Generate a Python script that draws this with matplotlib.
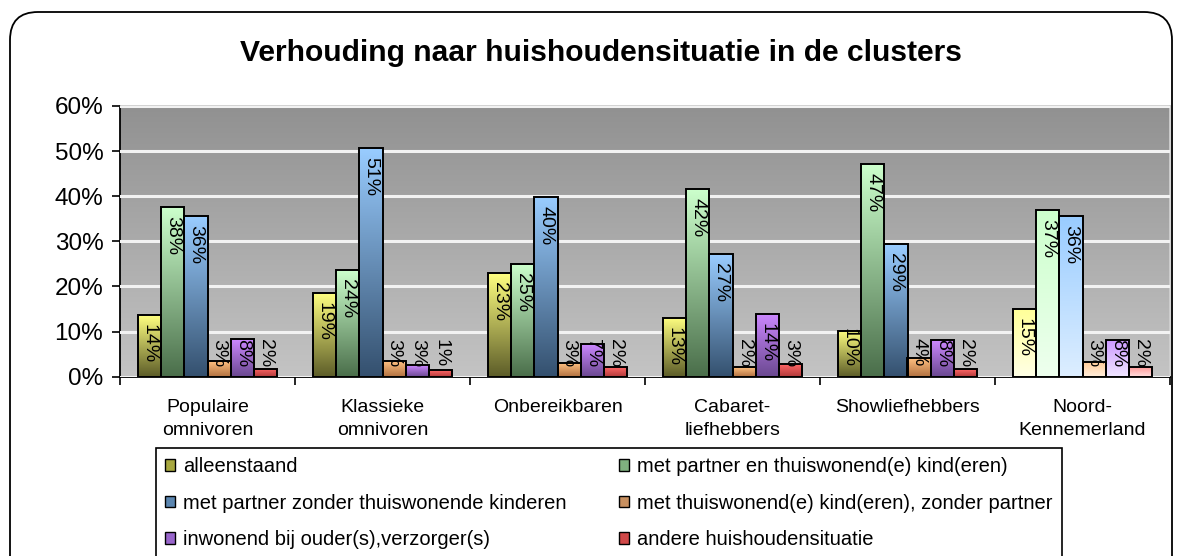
import numpy as np
import matplotlib
matplotlib.use("Agg")
import matplotlib.pyplot as plt
from matplotlib.patches import Patch, FancyBboxPatch
from matplotlib.colors import to_rgb

plt.rcParams['font.family'] = ['Liberation Sans', 'DejaVu Sans']

title = "Verhouding naar huishoudensituatie in de clusters"
categories = ["Populaire\nomnivoren", "Klassieke\nomnivoren", "Onbereikbaren",
              "Cabaret-\nliefhebbers", "Showliefhebbers", "Noord-\nKennemerland"]
series_names = ["alleenstaand",
                "met partner en thuiswonend(e) kind(eren)",
                "met partner zonder thuiswonende kinderen",
                "met thuiswonend(e) kind(eren), zonder partner",
                "inwonend bij ouder(s),verzorger(s)",
                "andere huishoudensituatie"]
alleenstaand = [13.7, 18.6, 22.9, 13.1, 10.2, 14.9]
partner_kind = [37.6, 23.7, 25.0, 41.6, 47.2, 37.0]
partner_zonder = [35.6, 50.6, 39.9, 27.1, 29.4, 35.6]
kind_zonder_partner = [3.4, 3.4, 3.0, 2.1, 4.2, 3.3]
inwonend = [8.3, 2.6, 7.2, 14.0, 8.1, 8.1]
andere = [1.8, 1.4, 2.1, 2.8, 1.7, 2.1]
values = [alleenstaand, partner_kind, partner_zonder, kind_zonder_partner, inwonend, andere]
yticks = [0, 10, 20, 30, 40, 50, 60]

top_colors = ["#ffff80", "#ccffcc", "#99ccff", "#ffc080", "#cc88ff", "#ff6666"]
bottom_colors = ["#5c5c28", "#4a6e4a", "#34506e", "#b07040", "#6a4890", "#b03a3a"]
pale_top = ["#ffff99", "#ccffcc", "#99ccff", "#ffcc99", "#cc99ff", "#ff9999"]
pale_bottom = ["#ffffe6", "#eeffee", "#ddeeff", "#ffeedd", "#f0e6ff", "#ffe0e0"]
legend_colors = ["#a8a840", "#7fb07f", "#5b86b0", "#c89060", "#9966cc", "#d04848"]

W, H = 1182, 556
fig = plt.figure(figsize=(W / 100, H / 100), dpi=100)
fig.patch.set_facecolor("white")

# rounded outer border
border = FancyBboxPatch((0.10, -0.3), 11.62, 5.56 - 0.12 + 0.3,
                        boxstyle="round,pad=0,rounding_size=0.28",
                        transform=fig.dpi_scale_trans, facecolor="none",
                        edgecolor="black", linewidth=1.3)
fig.patches.append(border)

ax = fig.add_axes([120 / W, 1 - 376.7 / H, (1170 - 120) / W, (376.7 - 106) / H])

# background gradient
grad = np.linspace(0, 1, 256).reshape(-1, 1)
c_top = np.array(to_rgb("#919191"))
c_bot = np.array(to_rgb("#c4c4c4"))
bg = c_top[None, None, :] * (1 - grad[:, :, None]) + c_bot[None, None, :] * grad[:, :, None]
ax.imshow(bg, extent=(0, 1, 0, 1), transform=ax.transAxes, aspect="auto",
          zorder=0, origin="upper")

n_series = len(values)
width = 0.133
x = np.arange(len(categories))
texts = []
for i, vals in enumerate(values):
    offs = (i - (n_series - 1) / 2) * width
    bars = ax.bar(x + offs, vals, width, facecolor="none", edgecolor="black",
                  linewidth=1.4, zorder=4)
    for j, b in enumerate(bars):
        if j == len(categories) - 1:
            ct, cb = np.array(to_rgb(pale_top[i])), np.array(to_rgb(pale_bottom[i]))
        else:
            ct, cb = np.array(to_rgb(top_colors[i])), np.array(to_rgb(bottom_colors[i]))
        g = np.linspace(0, 1, 128).reshape(-1, 1)
        img = ct[None, None, :] * (1 - g[:, :, None]) + cb[None, None, :] * g[:, :, None]
        bx0 = b.get_x()
        ax.imshow(img, extent=(bx0, bx0 + b.get_width(), 0, b.get_height()),
                  aspect="auto", zorder=3, origin="upper")
        t = ax.text(b.get_x() + b.get_width() / 2, vals[j], f"{vals[j]:.0f}%",
                    rotation=270, ha="center", va="top", fontsize=14,
                    color="black", zorder=6)
        texts.append((t, vals[j]))

ax.set_xlim(-0.5, len(categories) - 0.5)
ax.set_ylim(0, 60)
ax.set_yticks(yticks)
ax.set_yticklabels([f"{v}%" for v in yticks], fontsize=17.5)
ax.yaxis.grid(True, color="#f2f2f2", linewidth=2.2, zorder=1)
ax.set_axisbelow(False)
for gl in ax.get_ygridlines():
    gl.set_zorder(1)
ax.set_xticks(x)
ax.set_xticklabels(categories, fontsize=14, linespacing=1.45, va="top")
ax.set_xticks(np.arange(-0.5, len(categories), 1.0), minor=True)
ax.tick_params(axis="x", which="major", length=0, pad=16)
ax.tick_params(axis="x", which="minor", length=6, width=1.2, direction="out")
ax.tick_params(axis="y", length=6, width=1.2, direction="out", pad=6)
for s in ["left", "bottom"]:
    ax.spines[s].set_color("black")
    ax.spines[s].set_linewidth(1.3)
for s in ["top", "right"]:
    ax.spines[s].set_color("#cfcfcf")
    ax.spines[s].set_linewidth(1.3)

fig.text(601 / W, 1 - 53 / H, title, ha="center", va="center", fontsize=21.6,
         fontweight="bold")

# legend
order = [0, 2, 4, 1, 3, 5]
handles = [Patch(facecolor=legend_colors[k], edgecolor="black", linewidth=1.0) for k in order]
labels = [series_names[k] for k in order]
leg = fig.legend(handles, labels, loc="upper left",
                 bbox_to_anchor=(156 / W, 1 - 448 / H), ncol=2, fontsize=14.5,
                 frameon=True, fancybox=False, edgecolor="black", framealpha=1,
                 handlelength=0.5, handleheight=0.5, handletextpad=0.4,
                 columnspacing=2.6, labelspacing=0.87, borderaxespad=0,
                 borderpad=0.45)
leg.get_frame().set_linewidth(1.2)

# position data labels
fig.canvas.draw()
renderer = fig.canvas.get_renderer()
px_per_unit = ax.transData.transform((0, 1))[1] - ax.transData.transform((0, 0))[1]
for t, v in texts:
    bb = t.get_window_extent(renderer)
    hdata = bb.height / px_per_unit
    t.set_y(max(v - 2.0, 2.2 + hdata))

fig.savefig("out.png", dpi=100, facecolor="white")
